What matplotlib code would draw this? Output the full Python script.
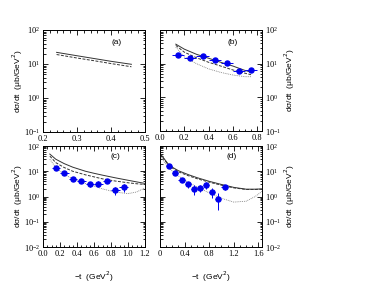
import numpy as np
import matplotlib
matplotlib.use("Agg")
import matplotlib.pyplot as plt
from matplotlib.ticker import LogLocator, MultipleLocator, NullFormatter, FormatStrFormatter, FuncFormatter

# ---------------- data ----------------
# panel (a)
ta_line = [0.24, 0.30, 0.35, 0.40, 0.46]
a_solid = [22.0, 17.5, 14.5, 12.0, 9.8]
a_dash = [19.0, 15.0, 12.5, 10.3, 8.3]

# panel (b)
tb_pts = [0.15, 0.25, 0.35, 0.45, 0.55, 0.65, 0.75]
b_pts = [17.6, 14.7, 16.8, 12.8, 10.7, 6.1, 6.7]
b_yerr = [1.5, 1.3, 1.4, 1.1, 1.0, 0.7, 0.8]
tb_line = [0.13, 0.20, 0.30, 0.40, 0.50, 0.60, 0.70, 0.75]
b_solid = [38.0, 27.0, 19.0, 14.5, 11.0, 8.5, 6.3, 5.6]
b_dash = [35.0, 22.0, 15.0, 11.0, 8.5, 6.5, 5.2, 4.7]
b_dot = [31.0, 16.0, 10.0, 7.0, 5.5, 4.6, 4.1, 4.1]

# panel (c)
tc_pts = [0.15, 0.25, 0.35, 0.45, 0.55, 0.65, 0.75, 0.85, 0.95]
c_pts = [13.8, 8.5, 4.8, 4.1, 3.1, 3.2, 4.2, 1.8, 2.3]
c_yerr = [1.5, 1.0, 0.7, 0.7, 0.8, 0.8, 0.9, 0.6, 0.8]
tc_line = [0.08, 0.15, 0.25, 0.35, 0.50, 0.60, 0.70, 0.85, 1.00, 1.10, 1.20]
c_solid = [48.0, 30.0, 20.0, 14.5, 10.0, 8.3, 7.0, 5.5, 4.4, 3.8, 3.3]
c_dash = [40.0, 22.0, 14.0, 10.0, 7.2, 6.0, 5.0, 4.1, 3.5, 3.2, 3.0]
c_dot = [30.0, 14.0, 7.5, 5.0, 3.3, 2.6, 2.0, 1.5, 1.3, 1.5, 2.2]

# panel (d)
td_pts = [0.15, 0.25, 0.35, 0.45, 0.55, 0.65, 0.75, 0.85, 0.95, 1.05]
d_pts = [16.6, 8.3, 4.4, 3.0, 1.9, 2.15, 2.8, 1.45, 0.83, 2.3]
d_yerr_lo = [1.5, 0.9, 0.7, 0.8, 0.8, 0.7, 0.8, 0.6, 0.55, 0.5]
d_yerr_hi = [1.5, 0.9, 0.7, 0.8, 0.9, 0.8, 0.9, 0.7, 0.5, 0.5]
td_line = [0.0, 0.15, 0.30, 0.45, 0.60, 0.80, 1.00, 1.20, 1.40, 1.55, 1.66]
d_solid = [52.0, 17.0, 10.5, 7.5, 5.6, 4.0, 3.0, 2.3, 1.95, 1.95, 2.0]
d_dash = [48.0, 16.0, 9.5, 6.8, 5.1, 3.7, 2.8, 2.2, 1.9, 1.9, 1.95]
d_dot = [40.0, 13.0, 6.5, 3.8, 2.4, 1.4, 0.85, 0.6, 0.65, 1.0, 1.6]

xlabel = "\u2212t  (GeV$^2$)"
ylabel = "d\u03c3/dt  (\u03bcb/GeV$^2$)"

# ---------------- figure ----------------
fig = plt.figure(figsize=(3.77, 2.92), dpi=100)
W, H = 377, 292

def ax_at(l, t, r, b):
    return fig.add_axes([l / W, 1 - b / H, (r - l) / W, (b - t) / H])

axa = ax_at(43, 30, 145, 132)
axb = ax_at(160, 30, 262, 131)
axc = ax_at(43, 146, 145, 247)
axd = ax_at(160, 146, 262, 247)

serif = "Liberation Serif"
sans = "Liberation Sans"
fs = 6.0
lc = "#333333"
blue = "#0000ee"

def style(ax, xlim, ylim, xmaj, xmin, xfmt, right=False):
    ax.set_yscale("log")
    ax.set_xlim(*xlim)
    ax.set_ylim(*ylim)
    ax.xaxis.set_major_locator(MultipleLocator(xmaj))
    ax.xaxis.set_minor_locator(MultipleLocator(xmin))
    ax.xaxis.set_major_formatter(FormatStrFormatter(xfmt))
    ax.yaxis.set_major_locator(LogLocator(base=10, numticks=10))
    ax.yaxis.set_minor_locator(LogLocator(base=10, subs=np.arange(2, 10), numticks=20))
    ax.yaxis.set_minor_formatter(NullFormatter())
    ax.tick_params(which="both", direction="in", top=True, right=True,
                   labelsize=fs, width=0.6)
    ax.tick_params(axis="x", pad=2.5)
    ax.tick_params(axis="y", pad=2.2)
    ax.tick_params(which="major", length=3.5)
    ax.tick_params(which="minor", length=1.8)
    if right:
        ax.tick_params(axis="y", labelleft=False, labelright=True)
    for lab in ax.get_xticklabels() + ax.get_yticklabels():
        lab.set_fontfamily(serif)
    for s in ax.spines.values():
        s.set_linewidth(0.7)

def curves(ax, t, solid, dash, dot=None):
    ax.plot(t, solid, color=lc, lw=0.7, ls="-")
    ax.plot(t, dash, color=lc, lw=0.7, ls=(0, (3, 1.5)))
    if dot is not None:
        ax.plot(t, dot, color="#777777", lw=0.6, ls=(0, (1, 1.2)))

# (a)
curves(axa, ta_line, a_solid, a_dash)
style(axa, (0.2, 0.5), (0.1, 100), 0.1, 0.02, "%.1f")
axa.text(0.415, 43.3, "(a)", fontsize=fs, family=sans, ha="center", va="center")

# (b)
curves(axb, tb_line, b_solid, b_dash, b_dot)
axb.errorbar(tb_pts, b_pts, xerr=0.05, yerr=b_yerr, fmt="o", color=blue,
             ms=3.6, elinewidth=0.7, capsize=0)
style(axb, (0.0, 0.84), (0.1, 100), 0.2, 0.05, "%.1f", right=True)
axb.text(0.6, 43.3, "(b)", fontsize=fs, family=sans, ha="center", va="center")

# (c)
curves(axc, tc_line, c_solid, c_dash, c_dot)
axc.errorbar(tc_pts, c_pts, xerr=0.05, yerr=c_yerr, fmt="o", color=blue,
             ms=3.6, elinewidth=0.7, capsize=0)
style(axc, (0.0, 1.2), (0.01, 100), 0.2, 0.05, "%.1f")
axc.text(0.85, 37, "(c)", fontsize=fs, family=sans, ha="center", va="center")

# (d)
curves(axd, td_line, d_solid, d_dash, d_dot)
axd.errorbar(td_pts, d_pts, xerr=0.05, yerr=[d_yerr_lo, d_yerr_hi], fmt="o",
             color=blue, ms=3.6, elinewidth=0.7, capsize=0)
style(axd, (0.0, 1.66), (0.01, 100), 0.4, 0.1, "%.1f", right=True)
axd.xaxis.set_major_formatter(FuncFormatter(
    lambda v, p: "0" if abs(v) < 1e-9 else f"{v:.1f}"))
axd.text(1.17, 37, "(d)", fontsize=fs, family=sans, ha="center", va="center")

# labels
for ax in (axa, axc):
    ax.set_ylabel(ylabel, fontsize=fs, family=sans)
    ax.yaxis.set_label_coords(-0.18, 0.5)
for ax in (axb, axd):
    ax.yaxis.set_label_position("right")
    ax.set_ylabel(ylabel, fontsize=fs, family=sans)
    ax.yaxis.set_label_coords(1.2, 0.5)
for ax in (axc, axd):
    ax.set_xlabel(xlabel, fontsize=fs, family=sans)
    ax.xaxis.set_label_coords(0.5, -0.22)

fig.savefig("out.png", dpi=100)
